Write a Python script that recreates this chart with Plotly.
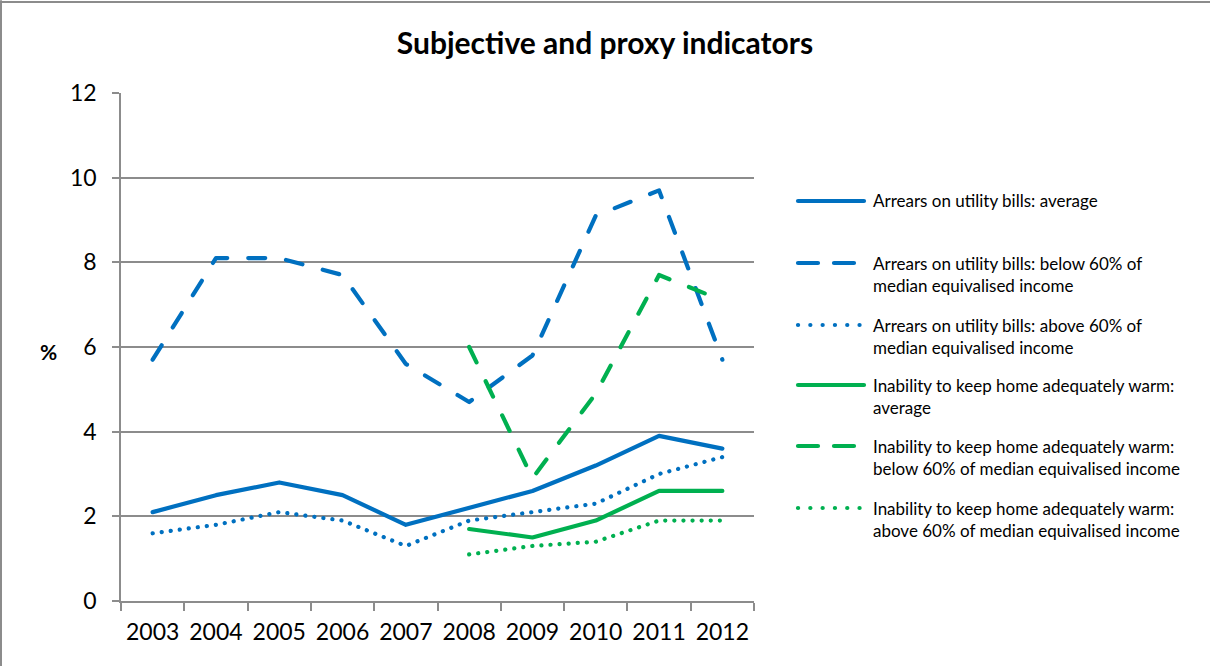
import plotly.graph_objects as go

# Survey years (category axis)
years = ["2003", "2004", "2005", "2006", "2007", "2008", "2009", "2010", "2011", "2012"]

# Arrears on utility bills (%)
arrears_avg = [2.1, 2.5, 2.8, 2.5, 1.8, 2.2, 2.6, 3.2, 3.9, 3.6]
arrears_below60 = [5.7, 8.1, 8.1, 7.7, 5.6, 4.7, 5.8, 9.1, 9.7, 5.7]
arrears_above60 = [1.6, 1.8, 2.1, 1.9, 1.3, 1.9, 2.1, 2.3, 3.0, 3.4]

# Inability to keep home adequately warm (%), available from 2008
warm_avg = [None, None, None, None, None, 1.7, 1.5, 1.9, 2.6, 2.6]
warm_below60 = [None, None, None, None, None, 6.0, 2.9, 4.9, 7.7, 7.1]
warm_above60 = [None, None, None, None, None, 1.1, 1.3, 1.4, 1.9, 1.9]

y_ticks = [0, 2, 4, 6, 8, 10, 12]

BLUE = "#0070C0"
GREEN = "#00B050"
DASH = "17px,21px"
DOT = "0.1px,9px"

series = [
    ("Arrears on utility bills: average", arrears_avg, BLUE, "solid"),
    ("Arrears on utility bills: below 60% of\nmedian equivalised income", arrears_below60, BLUE, DASH),
    ("Arrears on utility bills: above 60% of\nmedian equivalised income", arrears_above60, BLUE, DOT),
    ("Inability to keep home adequately warm:\naverage", warm_avg, GREEN, "solid"),
    ("Inability to keep home adequately warm:\nbelow 60% of median equivalised income", warm_below60, GREEN, DASH),
    ("Inability to keep home adequately warm:\nabove 60% of median equivalised income", warm_above60, GREEN, DOT),
]

W, H = 1210, 666
ML, MR, MT, MB = 121, 456, 93, 65
PW, PH = W - ML - MR, H - MT - MB


def px(x):
    return (x - ML) / PW


def py(y):
    return (H - MB - y) / PH


fig = go.Figure()
for name, vals, color, dash in series:
    fig.add_trace(go.Scatter(
        x=years, y=vals, name=name.replace("\n", " "), mode="lines",
        line=dict(color=color, width=4.2, dash=dash),
        connectgaps=False, showlegend=False, hoverinfo="skip",
    ))

FONT = "Lato, Calibri, Arial, sans-serif"

# Legend drawn beside the plot: line sample + wrapped label
shapes = []
annotations = []
legend_y = [201, 263, 325, 385, 446, 508]
for (name, _, color, dash), ly in zip(series, legend_y):
    shapes.append(dict(
        type="line", xref="paper", yref="paper",
        x0=px(798), x1=px(864), y0=py(ly), y1=py(ly),
        line=dict(color=color, width=4.2,
                  dash="20px,16px" if dash == DASH else ("0.1px,12.2px" if dash == DOT else "solid")),
    ))
    for i, text_line in enumerate(name.split("\n")):
        annotations.append(dict(
            text=text_line, xref="paper", yref="paper",
            x=px(871), y=py(ly + 22 * i), xanchor="left", yanchor="middle",
            showarrow=False, font=dict(family=FONT, size=17, color="#000000"),
        ))

# Axis label
annotations.append(dict(
    text="<b>%</b>", xref="paper", yref="paper", x=px(48), y=py(351),
    xanchor="center", yanchor="middle", showarrow=False,
    font=dict(family=FONT, size=21, color="#000000"),
))

# Chart-area frame (top and left edges)
frame = dict(color="#8C8C8C", width=2)
shapes.append(dict(type="line", xref="paper", yref="paper", layer="below",
                   x0=px(1), x1=px(1), y0=py(1), y1=py(H + 5), line=frame))
shapes.append(dict(type="line", xref="paper", yref="paper", layer="below",
                   x0=px(0), x1=px(W + 5), y0=py(2), y1=py(2), line=frame))

fig.update_layout(
    width=W, height=H,
    margin=dict(l=ML, r=MR, t=MT, b=MB, pad=0),
    paper_bgcolor="white", plot_bgcolor="white",
    title=dict(text="<b>Subjective and proxy indicators</b>", x=0.5, xanchor="center",
               y=1 - 43 / H, yanchor="middle",
               font=dict(family=FONT, size=30, color="#000000")),
    font=dict(family=FONT, color="#000000"),
    showlegend=False,
    shapes=shapes,
    annotations=annotations,
)

fig.update_xaxes(
    type="category", range=[-0.5, len(years) - 0.5],
    tickson="boundaries", ticks="outside", ticklen=8,
    tickcolor="#8C8C8C", tickwidth=1.5,
    showline=True, linecolor="#8C8C8C", linewidth=1.5,
    showgrid=False, zeroline=False,
    tickfont=dict(family=FONT, size=23, color="#000000"),
    ticklabelstandoff=10,
)
fig.update_yaxes(
    range=[0, 12], tickvals=y_ticks, ticks="outside", ticklen=7,
    tickcolor="#8C8C8C", tickwidth=1.5,
    showline=True, linecolor="#8C8C8C", linewidth=1.5,
    showgrid=True, gridcolor="#8C8C8C", gridwidth=1.5, zeroline=False,
    tickfont=dict(family=FONT, size=23, color="#000000"),
    ticklabelstandoff=11,
)

round_caps = (
    "var s=document.createElement('style');"
    "s.textContent='.scatterlayer path.js-line, .shapelayer path'"
    "+'{stroke-linecap:round !important;stroke-linejoin:round !important;}';"
    "document.head.appendChild(s);"
)

fig.write_html("out.html", post_script=round_caps)
